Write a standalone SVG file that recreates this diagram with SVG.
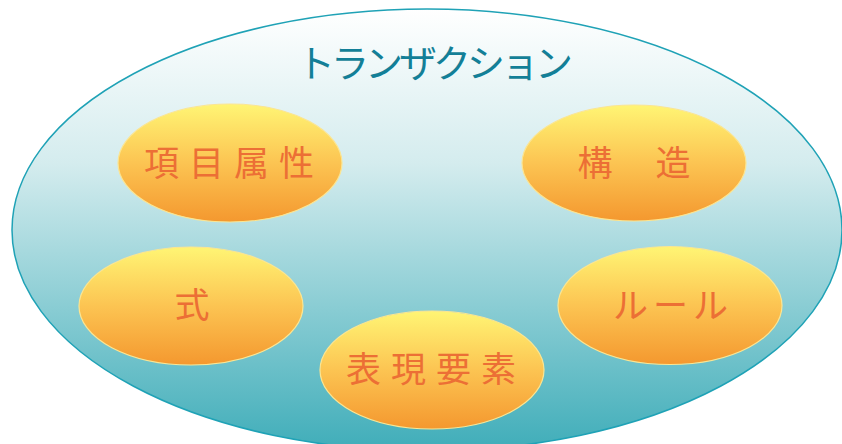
<svg xmlns="http://www.w3.org/2000/svg" width="842" height="444" viewBox="0 0 842 444">
<defs>
<linearGradient id="outerG" x1="0" y1="0" x2="0" y2="1">
<stop offset="0" stop-color="#ffffff"/>
<stop offset="0.35" stop-color="#d4ecee"/>
<stop offset="1" stop-color="#3fadb9"/>
</linearGradient>
<linearGradient id="innerG" x1="0" y1="0" x2="0" y2="1">
<stop offset="0" stop-color="#fff574"/>
<stop offset="0.5" stop-color="#fcc452"/>
<stop offset="1" stop-color="#f4982f"/>
</linearGradient>
<style>
.inner{fill:url(#innerG);stroke:#fbe592;stroke-width:1.2}
.lbl{font-family:"Noto Sans CJK JP","Noto Sans CJK SC",sans-serif;font-size:35px;fill:#ec6f35;text-anchor:middle}
</style>
</defs>
<g id="transaction">
<ellipse cx="427" cy="230" rx="415" ry="221" fill="url(#outerG)" stroke="#1fa2b6" stroke-width="1.5"/>
<text x="433" y="77" font-family="'Noto Sans CJK JP','Noto Sans CJK SC',sans-serif" font-size="38" fill="#137f97" text-anchor="middle" letter-spacing="-4">トランザクション</text>
</g>
<g id="n1">
<ellipse class="inner" cx="230" cy="163" rx="112" ry="59"/>
<text class="lbl" x="234" y="176" letter-spacing="10">項目属性</text>
</g>
<g id="n2">
<ellipse class="inner" cx="634" cy="163" rx="112" ry="58"/>
<text class="lbl" x="636" y="176" letter-spacing="4">構　造</text>
</g>
<g id="n3">
<ellipse class="inner" cx="191" cy="306" rx="112" ry="59"/>
<text class="lbl" x="192" y="318">式</text>
</g>
<g id="n4">
<ellipse class="inner" cx="670" cy="305.5" rx="112" ry="59"/>
<text class="lbl" x="673" y="318" letter-spacing="5">ルール</text>
</g>
<g id="n5">
<ellipse class="inner" cx="432" cy="370" rx="112" ry="59"/>
<text class="lbl" x="436" y="382" letter-spacing="10">表現要素</text>
</g>
<g id="connectors"/>
</svg>
